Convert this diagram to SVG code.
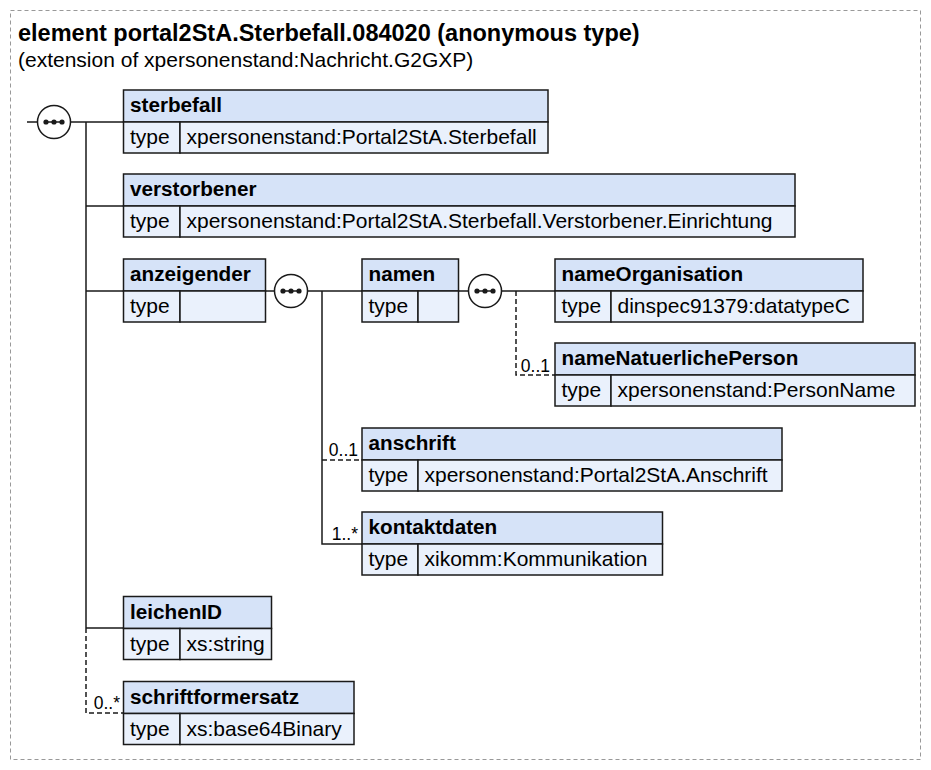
<svg xmlns="http://www.w3.org/2000/svg" width="931" height="770" viewBox="0 0 931 770">
<style>
.frame{fill:none;stroke:#999;stroke-width:1;stroke-dasharray:4,3}
.title{font-family:"Liberation Sans",Arial,sans-serif;font-size:23.5px;font-weight:bold;fill:#000}
.sub{font-family:"Liberation Sans",Arial,sans-serif;font-size:21px;fill:#000}
.hd{fill:#d6e3f8;stroke:#1a1a1a;stroke-width:1.5}
.tr{fill:#eaf1fc;stroke:#1a1a1a;stroke-width:1.5}
.nm{font-family:"Liberation Sans",Arial,sans-serif;font-size:20.7px;font-weight:bold;fill:#000}
.tx{font-family:"Liberation Sans",Arial,sans-serif;font-size:21px;fill:#000}
.ln{fill:none;stroke:#1a1a1a;stroke-width:1.5}
.dl{fill:none;stroke:#1a1a1a;stroke-width:1.5;stroke-dasharray:5,3}
.lb{font-family:"Liberation Sans",Arial,sans-serif;font-size:17.5px;fill:#000;text-anchor:end}
.cc{fill:#fff;stroke:#1a1a1a;stroke-width:1.5}
.dot{fill:#1a1a1a}
</style>
<defs>
<g id="seq">
<circle class="cc" cx="0" cy="0" r="16.5"/>
<line x1="-9" y1="0" x2="9" y2="0" stroke="#1a1a1a" stroke-width="1.5"/>
<circle class="dot" cx="-8" cy="0" r="2.6"/>
<circle class="dot" cx="0" cy="0" r="2.6"/>
<circle class="dot" cx="8" cy="0" r="2.6"/>
</g>
</defs>
<rect class="frame" x="10.5" y="10.5" width="910" height="749"/>
<text class="title" x="18" y="40.5">element portal2StA.Sterbefall.084020 (anonymous type)</text>
<text class="sub" x="18" y="66.5">(extension of xpersonenstand:Nachricht.G2GXP)</text>

<g id="connectors">
<path class="ln" d="M27,122H38M70,122H123.5M86,122V628M86,206H123.5M86,291H123.5M86,628H123.5"/>
<path class="dl" d="M86,628V713H123.5"/>
<path class="ln" d="M265.5,291H275M307,291H362M322,291V544H362"/>
<path class="dl" d="M322,460H362"/>
<path class="ln" d="M458.5,291H469M501,291H555"/>
<path class="dl" d="M516,291V375H555"/>
<text class="lb" x="550" y="372">0..1</text>
<text class="lb" x="358" y="456">0..1</text>
<text class="lb" x="358" y="540">1..*</text>
<text class="lb" x="120" y="709">0..*</text>
</g>

<g id="seq1"><use href="#seq" x="54" y="122"/></g>
<g id="seq2"><use href="#seq" x="291" y="291"/></g>
<g id="seq3"><use href="#seq" x="485" y="291"/></g>

<g id="sterbefall">
<rect class="hd" x="123.5" y="90" width="424.5" height="32"/>
<rect class="tr" x="123.5" y="122" width="56.5" height="31"/>
<rect class="tr" x="180" y="122" width="368" height="31"/>
<text class="nm" x="130" y="112">sterbefall</text>
<text class="tx" x="130" y="144">type</text>
<text class="tx" x="186.5" y="144">xpersonenstand:Portal2StA.Sterbefall</text>
</g>

<g id="verstorbener">
<rect class="hd" x="123.5" y="174" width="671.5" height="32"/>
<rect class="tr" x="123.5" y="206" width="56.5" height="31"/>
<rect class="tr" x="180" y="206" width="615" height="31"/>
<text class="nm" x="130" y="196">verstorbener</text>
<text class="tx" x="130" y="228">type</text>
<text class="tx" x="186.5" y="228">xpersonenstand:Portal2StA.Sterbefall.Verstorbener.Einrichtung</text>
</g>

<g id="anzeigender">
<rect class="hd" x="123.5" y="259" width="142" height="32"/>
<rect class="tr" x="123.5" y="291" width="56.5" height="31"/>
<rect class="tr" x="180" y="291" width="85.5" height="31"/>
<text class="nm" x="130" y="281">anzeigender</text>
<text class="tx" x="130" y="313">type</text>
</g>

<g id="namen">
<rect class="hd" x="362" y="259" width="96.5" height="32"/>
<rect class="tr" x="362" y="291" width="56" height="31"/>
<rect class="tr" x="418" y="291" width="40.5" height="31"/>
<text class="nm" x="368.5" y="281">namen</text>
<text class="tx" x="368.5" y="313">type</text>
</g>

<g id="nameOrganisation">
<rect class="hd" x="555" y="259" width="308" height="32"/>
<rect class="tr" x="555" y="291" width="56" height="31"/>
<rect class="tr" x="611" y="291" width="252" height="31"/>
<text class="nm" x="561.5" y="281">nameOrganisation</text>
<text class="tx" x="561.5" y="313">type</text>
<text class="tx" x="617.5" y="313">dinspec91379:datatypeC</text>
</g>

<g id="nameNatuerlichePerson">
<rect class="hd" x="555" y="343" width="360" height="32"/>
<rect class="tr" x="555" y="375" width="56" height="31"/>
<rect class="tr" x="611" y="375" width="304" height="31"/>
<text class="nm" x="561.5" y="365">nameNatuerlichePerson</text>
<text class="tx" x="561.5" y="397">type</text>
<text class="tx" x="617.5" y="397">xpersonenstand:PersonName</text>
</g>

<g id="anschrift">
<rect class="hd" x="362" y="428" width="420" height="32"/>
<rect class="tr" x="362" y="460" width="56" height="31"/>
<rect class="tr" x="418" y="460" width="364" height="31"/>
<text class="nm" x="368.5" y="450">anschrift</text>
<text class="tx" x="368.5" y="482">type</text>
<text class="tx" x="424.5" y="482">xpersonenstand:Portal2StA.Anschrift</text>
</g>

<g id="kontaktdaten">
<rect class="hd" x="362" y="512" width="300.5" height="32"/>
<rect class="tr" x="362" y="544" width="56" height="31"/>
<rect class="tr" x="418" y="544" width="244.5" height="31"/>
<text class="nm" x="368.5" y="534">kontaktdaten</text>
<text class="tx" x="368.5" y="566">type</text>
<text class="tx" x="424.5" y="566">xikomm:Kommunikation</text>
</g>

<g id="leichenID">
<rect class="hd" x="123.5" y="596.5" width="148" height="32"/>
<rect class="tr" x="123.5" y="628.5" width="56.5" height="31"/>
<rect class="tr" x="180" y="628.5" width="91.5" height="31"/>
<text class="nm" x="130" y="618.5">leichenID</text>
<text class="tx" x="130" y="650.5">type</text>
<text class="tx" x="186.5" y="650.5">xs:string</text>
</g>

<g id="schriftformersatz">
<rect class="hd" x="123.5" y="681.5" width="230.5" height="32"/>
<rect class="tr" x="123.5" y="713.5" width="56.5" height="31"/>
<rect class="tr" x="180" y="713.5" width="174" height="31"/>
<text class="nm" x="130" y="703.5">schriftformersatz</text>
<text class="tx" x="130" y="735.5">type</text>
<text class="tx" x="186.5" y="735.5">xs:base64Binary</text>
</g>
</svg>
